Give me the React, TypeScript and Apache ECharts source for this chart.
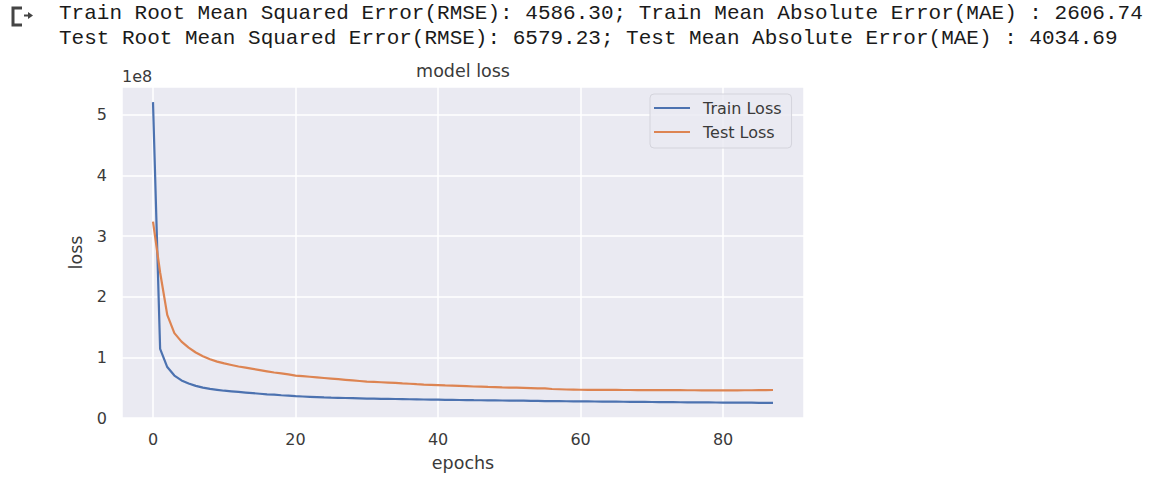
import React, { useEffect, useRef } from "react";
import * as echarts from "echarts";

// Loss values in units of 1e8 (matplotlib offset text "1e8")
const trainLoss = [
  5.21, 1.14, 0.84, 0.7, 0.62, 0.57, 0.53, 0.5, 0.48, 0.465,
  0.45, 0.44, 0.43, 0.42, 0.41, 0.4, 0.39, 0.385, 0.375, 0.37,
  0.36, 0.355, 0.35, 0.345, 0.34, 0.336, 0.333, 0.33, 0.327, 0.324,
  0.321, 0.319, 0.317, 0.315, 0.313, 0.311, 0.309, 0.307, 0.305, 0.304,
  0.302, 0.3, 0.299, 0.297, 0.296, 0.294, 0.293, 0.291, 0.29, 0.289,
  0.287, 0.286, 0.285, 0.284, 0.282, 0.28, 0.278, 0.277, 0.276, 0.275,
  0.274, 0.273, 0.272, 0.271, 0.27, 0.269, 0.268, 0.267, 0.266, 0.265,
  0.264, 0.263, 0.262, 0.261, 0.26, 0.259, 0.258, 0.257, 0.257, 0.256,
  0.255, 0.254, 0.253, 0.253, 0.252, 0.251, 0.251, 0.25,
];

const testLoss = [
  3.24, 2.4, 1.7, 1.4, 1.26, 1.16, 1.08, 1.02, 0.97, 0.93,
  0.9, 0.875, 0.85, 0.83, 0.81, 0.79, 0.77, 0.75, 0.735, 0.72,
  0.7, 0.69, 0.68, 0.67, 0.66, 0.65, 0.64, 0.63, 0.62, 0.61,
  0.6, 0.595, 0.59, 0.585, 0.578, 0.57, 0.565, 0.558, 0.552, 0.548,
  0.543, 0.538, 0.534, 0.53, 0.525, 0.52, 0.516, 0.512, 0.51, 0.505,
  0.502, 0.5, 0.497, 0.494, 0.49, 0.488, 0.478, 0.474, 0.47, 0.468,
  0.466, 0.465, 0.464, 0.464, 0.463, 0.463, 0.462, 0.462, 0.461, 0.461,
  0.46, 0.46, 0.46, 0.459, 0.459, 0.458, 0.458, 0.457, 0.457, 0.456,
  0.456, 0.456, 0.457, 0.458, 0.458, 0.459, 0.46, 0.462,
];

const epochs = trainLoss.map((_, i) => i);

const seriesNames = ["Train Loss", "Test Loss"];
const titleText = "model loss";
const xAxisName = "epochs";
const yAxisName = "loss";
const offsetText = "1e8";
const headerLines = [
  "Train Root Mean Squared Error(RMSE): 4586.30; Train Mean Absolute Error(MAE) : 2606.74",
  "Test Root Mean Squared Error(RMSE): 6579.23; Test Mean Absolute Error(MAE) : 4034.69",
];

const FONT = "'DejaVu Sans', sans-serif";
const MONO = "'Liberation Mono', monospace";
const TEXT = "#3a3a3a";

export default function App() {
  const ref = useRef<HTMLDivElement>(null);

  useEffect(() => {
    if (!ref.current) return;
    const chart = echarts.init(ref.current, undefined, { renderer: "svg" });
    const gridLeft = 122;
    const gridRight = 804;
    const gridTop = 87;
    const gridBottom = 418;

    chart.setOption({
      animation: false,
      backgroundColor: "#ffffff",
      title: {
        text: titleText,
        left: (gridLeft + gridRight) / 2 - 5,
        textAlign: "center",
        top: 57,
        textStyle: { fontFamily: FONT, fontSize: 17.5, fontWeight: "normal", color: TEXT },
      },
      legend: {
        orient: "vertical",
        left: 650,
        top: 94,
        data: seriesNames,
        icon: "rect",
        itemWidth: 36,
        itemHeight: 2.2,
        itemGap: 6,
        padding: [5, 10, 7, 4],
        backgroundColor: "rgba(234,234,242,0.85)",
        borderColor: "#d4d4dc",
        borderWidth: 1,
        borderRadius: 4,
        textStyle: { fontFamily: FONT, fontSize: 16, color: TEXT, lineHeight: 18, padding: [0, 0, 0, 8] },
      },
      grid: {
        left: gridLeft,
        top: gridTop,
        width: gridRight - gridLeft,
        height: gridBottom - gridTop,
        show: true,
        backgroundColor: "#EAEAF2",
        borderWidth: 0,
      },
      xAxis: {
        type: "value",
        min: -4.35,
        max: 91.35,
        splitNumber: 5,
        name: xAxisName,
        nameLocation: "middle",
        nameGap: 36,
        nameTextStyle: { fontFamily: FONT, fontSize: 17.5, color: TEXT },
        axisLine: { show: false },
        axisTick: { show: false },
        axisLabel: {
          fontFamily: FONT, fontSize: 16, color: TEXT, margin: 13,
          showMinLabel: false, showMaxLabel: false,
        },
        splitLine: { show: true, lineStyle: { color: "#ffffff", width: 1.5 } },
      },
      yAxis: {
        type: "value",
        min: 0,
        max: 5.46,
        splitNumber: 5,
        name: yAxisName,
        nameLocation: "middle",
        nameGap: 37,
        nameRotate: 90,
        nameTextStyle: { fontFamily: FONT, fontSize: 17.5, color: TEXT },
        axisLine: { show: false },
        axisTick: { show: false },
        axisLabel: {
          fontFamily: FONT, fontSize: 16, color: TEXT, margin: 15,
          showMaxLabel: false,
        },
        splitLine: { show: true, lineStyle: { color: "#ffffff", width: 1.5 } },
      },
      series: [
        {
          name: seriesNames[0],
          type: "line",
          data: epochs.map((e, i) => [e, trainLoss[i]]),
          showSymbol: false,
          symbol: "none",
          lineStyle: { color: "#4C72B0", width: 2.2 },
          itemStyle: { color: "#4C72B0" },
        },
        {
          name: seriesNames[1],
          type: "line",
          data: epochs.map((e, i) => [e, testLoss[i]]),
          showSymbol: false,
          symbol: "none",
          lineStyle: { color: "#DD8452", width: 2.2 },
          itemStyle: { color: "#DD8452" },
        },
      ],
      graphic: [
        {
          type: "text",
          left: gridLeft,
          top: 68,
          style: { text: offsetText, fontFamily: FONT, fontSize: 16, fill: TEXT },
        },
        {
          type: "polyline",
          shape: { points: [[22, 8], [13, 8], [13, 25], [22, 25]] },
          style: { stroke: "#444", lineWidth: 3, fill: "none" },
        },
        {
          type: "line",
          shape: { x1: 24, y1: 15.5, x2: 30, y2: 15.5 },
          style: { stroke: "#444", lineWidth: 2 },
        },
        {
          type: "polygon",
          shape: { points: [[28, 12], [33, 15.5], [28, 19]] },
          style: { fill: "#444" },
        },
        {
          type: "text",
          x: 59,
          y: 13.5,
          style: {
            text: headerLines[0], fontFamily: MONO, fontSize: 21,
            fill: "#1a1a1a", verticalAlign: "middle",
          },
        },
        {
          type: "text",
          x: 59,
          y: 38.5,
          style: {
            text: headerLines[1], fontFamily: MONO, fontSize: 21,
            fill: "#1a1a1a", verticalAlign: "middle",
          },
        },
      ],
    });
    return () => chart.dispose();
  }, []);

  return (
    <div
      ref={ref}
      style={{ position: "absolute", left: 0, top: 0, width: 1176, height: 477 }}
    />
  );
}
